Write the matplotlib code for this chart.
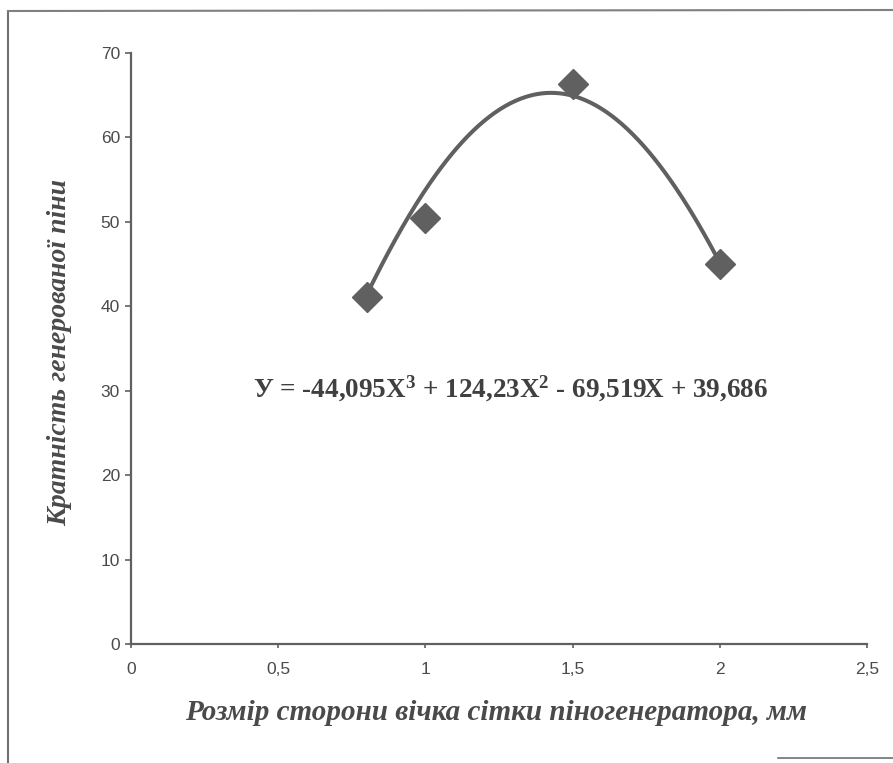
import numpy as np
import matplotlib
matplotlib.use("Agg")
import matplotlib.pyplot as plt
from matplotlib.lines import Line2D

# Data
mesh_size = [0.8, 1.0, 1.5, 2.0]
foam_ratio = [41.1, 50.4, 66.3, 45.0]
# trendline as drawn in the picture
trend_x = [0.80, 0.95, 1.05, 1.22, 1.30, 1.39, 1.48, 1.62, 1.73, 1.84, 1.94, 2.00]
trend_y = [41.3, 51.1, 56.2, 62.7, 64.2, 65.0, 65.0, 63.3, 59.4, 54.1, 49.4, 45.0]
x_ticks = [0, 0.5, 1, 1.5, 2, 2.5]
x_tick_labels = ["0", "0,5", "1", "1,5", "2", "2,5"]
y_ticks = [0, 10, 20, 30, 40, 50, 60, 70]
y_tick_labels = ["0", "10", "20", "30", "40", "50", "60", "70"]
equation = r"У = -44,095X$^{3}$ + 124,23X$^{2}$ - 69,519X + 39,686"
x_label = "Розмір сторони вічка сітки піногенератора, мм"
y_label = "Кратність генерованої піни"

plt.rcParams['mathtext.fontset'] = 'custom'
plt.rcParams['mathtext.rm'] = 'Liberation Serif:bold'
plt.rcParams['mathtext.it'] = 'Liberation Serif:bold'
plt.rcParams['mathtext.bf'] = 'Liberation Serif:bold'

grey = "#606060"
fig = plt.figure(figsize=(8.93, 7.63), dpi=100)
ax = fig.add_axes([0.1467, 0.156, 0.9709 - 0.1467, 0.9305 - 0.156])

coef = np.polyfit(trend_x, trend_y, 4)
xs = np.linspace(min(trend_x), max(trend_x), 200)
ax.plot(xs, np.polyval(coef, xs), color=grey, lw=2.9, solid_capstyle='round', zorder=2)
ax.plot(mesh_size, foam_ratio, linestyle='none', marker='D', ms=15,
        color=grey, mec=grey, zorder=3)

ax.set_xlim(0, 2.5)
ax.set_ylim(0, 70)
ax.set_xticks(x_ticks)
ax.set_xticklabels(x_tick_labels)
ax.set_yticks(y_ticks)
ax.set_yticklabels(y_tick_labels)
for s in ['top', 'right']:
    ax.spines[s].set_visible(False)
for s in ['left', 'bottom']:
    ax.spines[s].set_color(grey)
    ax.spines[s].set_linewidth(1.6)
ax.tick_params(axis='both', direction='out', length=4, width=1.2, color=grey,
               labelsize=12.5, labelcolor="#4a4a4a")
ax.tick_params(axis='x', length=3, pad=10)
ax.tick_params(axis='y', pad=4)
for t in ax.get_xticklabels() + ax.get_yticklabels():
    t.set_family("Liberation Sans")

ax.text(0.415, 30.2, equation, fontsize=19.5, family="Liberation Serif", fontweight='bold',
        color="#404040", ha='left', va='center')

fig.text(496 / 893, 1 - 713 / 763, x_label, ha='center', va='center', fontsize=21,
         family="Liberation Serif", fontweight='bold', style='italic', color="#4a4a4a")
fig.text(60 / 893, 1 - 353 / 763, y_label, ha='center', va='center', rotation=90,
         fontsize=20, family="Liberation Serif", fontweight='bold', style='italic',
         color="#4a4a4a")

# scanned page frame
fig.add_artist(Line2D([8 / 893, 8 / 893], [1 - 763 / 763, 1 - 12 / 763], transform=fig.transFigure,
                      color="#707070", lw=1.5))
fig.add_artist(Line2D([8 / 893, 1.0], [1 - 11 / 763, 1 - 10 / 763], transform=fig.transFigure,
                      color="#808080", lw=1.5))
fig.add_artist(Line2D([778 / 893, 1.0], [1 - 758 / 763, 1 - 758 / 763], transform=fig.transFigure,
                      color="#707070", lw=1.2))

fig.savefig("out.png", dpi=100, facecolor="white")
